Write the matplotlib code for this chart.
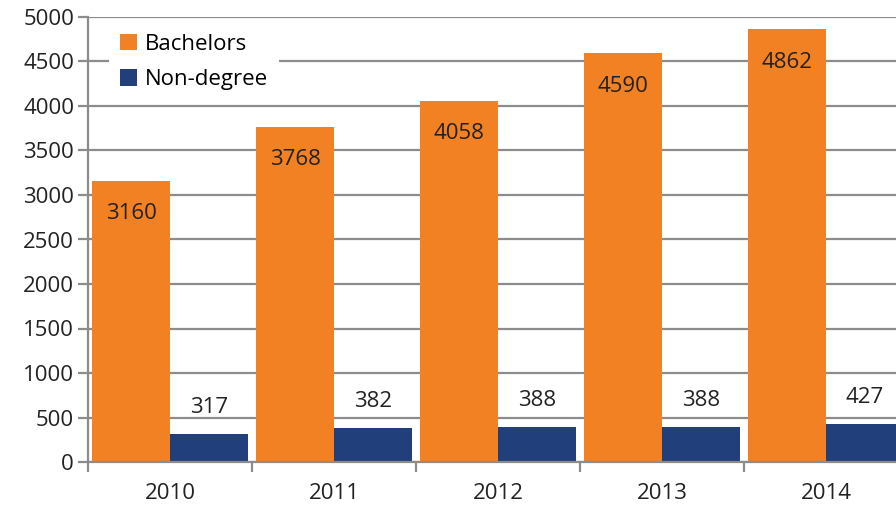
import numpy as np
import matplotlib.pyplot as plt

years = ["2010", "2011", "2012", "2013", "2014"]
bachelors = [3160, 3768, 4058, 4590, 4862]
non_degree = [317, 382, 388, 388, 427]

orange = "#F28124"
navy = "#213F7A"
grid_col = "#8C8C8C"
txt = "#222222"

plt.rcParams['font.family'] = ['Open Sans', 'DejaVu Sans']

fig = plt.figure(figsize=(8.96, 5.12), dpi=100)
ax = fig.add_axes([88 / 896, 50 / 512, 820 / 896, 445 / 512])

x = np.arange(len(years))
w = 0.475
b1 = ax.bar(x - w / 2, bachelors, w, color=orange, label="Bachelors", zorder=2)
b2 = ax.bar(x + w / 2, non_degree, w, color=navy, label="Non-degree", zorder=2)

for rect, v in zip(b1, bachelors):
    ax.text(rect.get_x() + rect.get_width() / 2, v - 370, str(v),
            ha="center", va="center", fontsize=16, color=txt, zorder=3)
for rect, v in zip(b2, non_degree):
    ax.text(rect.get_x() + rect.get_width() / 2, v + 300, str(v),
            ha="center", va="center", fontsize=16, color=txt, zorder=3)

ax.set_xlim(-0.5, len(years) - 0.5)
ax.set_ylim(0, 5000)
ax.set_yticks(np.arange(0, 5001, 500))
ax.yaxis.grid(True, color=grid_col, linewidth=1.6, zorder=0)
ax.set_axisbelow(True)

ax.set_xticks(x)
ax.set_xticklabels(years, fontsize=16, color=txt)
ax.set_xticks(np.arange(-0.5, len(years), 1), minor=True)
ax.tick_params(axis="x", which="major", length=0, pad=15)
ax.tick_params(axis="x", which="minor", length=7, width=1.6, color=grid_col, direction="out")
ax.tick_params(axis="y", labelsize=16, labelcolor=txt, length=7, width=1.6,
               color=grid_col, pad=3)

for s in ["top", "right"]:
    ax.spines[s].set_visible(False)
for s in ["left", "bottom"]:
    ax.spines[s].set_color(grid_col)
    ax.spines[s].set_linewidth(1.6)

leg = ax.legend(loc="upper left", bbox_to_anchor=(0.012, 1.012), fontsize=16,
                frameon=True, fancybox=False, framealpha=1, edgecolor="white",
                handlelength=0.75, handleheight=0.75, handletextpad=0.35,
                labelspacing=0.65, borderpad=0.5)
leg.get_frame().set_linewidth(0)

fig.savefig("out.png", dpi=100)
